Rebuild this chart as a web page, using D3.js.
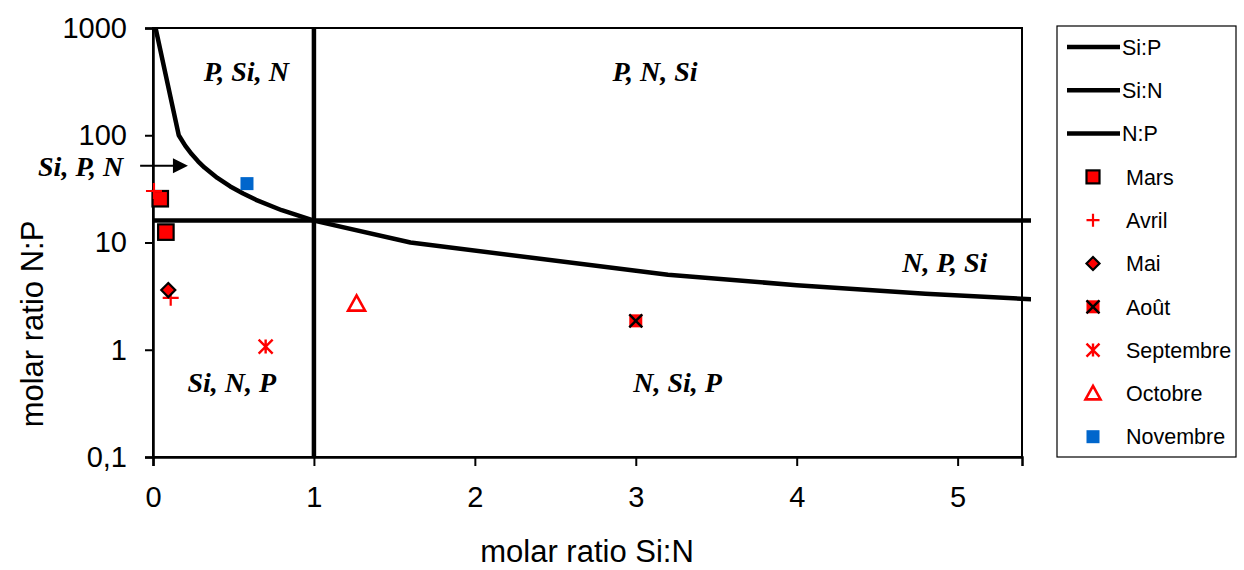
<!DOCTYPE html>
<html>
<head>
<meta charset="utf-8">
<script src="https://cdn.jsdelivr.net/npm/d3@7"></script>
<style>
  html, body { margin: 0; padding: 0; background: #fff; }
  svg { display: block; }
</style>
</head>
<body>
<svg id="chart" width="1244" height="570"></svg>
<script>
// ---- data ----
const xTicks = [0, 1, 2, 3, 4, 5];
const yTicks = [0.1, 1, 10, 100, 1000];

// Si:P = 16 line (vertices)
const siPLineSiN = [0.016, 0.16, 0.2, 0.24, 0.28, 0.32, 0.4, 0.48, 0.56, 0.64, 0.8, 1.0, 1.6, 3.2, 4.0, 4.8, 6.4];
const siPLineNP  = [1000, 100, 80, 66.7, 57.1, 50, 40, 33.3, 28.6, 25, 20, 16, 10, 5, 4, 3.33, 2.5];
// Si:N = 1 line
const siNLineSiN = [1, 1];
const siNLineNP  = [0.1, 1000];
// N:P = 16 line
const nPLineSiN = [0, 6.4];
const nPLineNP  = [16, 16];

const months = ["Mars", "Avril", "Mai", "Août", "Septembre", "Octobre", "Novembre"];
const marsSiN = [0.045, 0.08];   const marsNP = [25.6, 12.5];
const avrilSiN = [0.006, 0.11];  const avrilNP = [30.2, 3.05];
const maiSiN = [0.095];          const maiNP = [3.6];
const aoutSiN = [3.0];           const aoutNP = [1.86];
const septSiN = [0.70];          const septNP = [1.07];
const octSiN = [1.265];          const octNP = [2.68];
const novSiN = [0.584];          const novNP = [35.4];

const regionLabels = ["P, Si, N", "P, N, Si", "Si, P, N", "Si, N, P", "N, Si, P", "N, P, Si"];

// ---- layout ----
const svg = d3.select("#chart");
const pLeft = 153, pRight = 1022, pTop = 28, pBottom = 457;
const x = d3.scaleLinear().domain([0, 5.4]).range([pLeft, pRight]);
const y = d3.scaleLog().domain([0.1, 1000]).range([pBottom, pTop]);

svg.append("defs").append("clipPath").attr("id", "clip")
  .append("rect").attr("x", pLeft).attr("y", pTop - 2).attr("width", 1031 - pLeft).attr("height", pBottom - pTop + 4);

// frame
svg.append("rect").attr("x", pLeft).attr("y", pTop).attr("width", pRight - pLeft).attr("height", pBottom - pTop)
  .attr("fill", "none").attr("stroke", "#000").attr("stroke-width", 2);

// axes
const fmt = d => String(d).replace(".", ",");
const yAxis = svg.append("g").attr("transform", `translate(${pLeft},0)`)
  .call(d3.axisLeft(y).tickValues(yTicks).tickFormat(fmt).tickSize(8).tickPadding(18));
const xAxis = svg.append("g").attr("transform", `translate(0,${pBottom})`)
  .call(d3.axisBottom(x).tickValues(xTicks).tickFormat(fmt).tickSize(9).tickPadding(20));
[yAxis, xAxis].forEach(g => {
  g.select(".domain").attr("stroke", "#000").attr("stroke-width", 2.5);
  g.selectAll(".tick line").attr("stroke", "#000").attr("stroke-width", 2);
  g.selectAll(".tick text").attr("fill", "#000")
    .style("font-family", "Liberation Sans, Arial, sans-serif").style("font-size", "29px");
});

// axis titles
svg.append("text").attr("x", 587).attr("y", 562).attr("text-anchor", "middle")
  .style("font-family", "Liberation Sans, Arial, sans-serif").style("font-size", "31px")
  .text("molar ratio Si:N");
svg.append("text").attr("transform", "translate(43,324) rotate(-90)").attr("text-anchor", "middle")
  .style("font-family", "Liberation Sans, Arial, sans-serif").style("font-size", "31px")
  .text("molar ratio N:P");

// reference lines
const line = d3.line().x(d => x(d[0])).y(d => y(d[1]));
const lines = svg.append("g").attr("clip-path", "url(#clip)");
const zip = (a, b) => a.map((v, i) => [v, b[i]]);
[[siPLineSiN, siPLineNP], [siNLineSiN, siNLineNP], [nPLineSiN, nPLineNP]].forEach(([a, b]) => {
  lines.append("path").attr("d", line(zip(a, b)))
    .attr("fill", "none").attr("stroke", "#000").attr("stroke-width", 4.5).attr("stroke-linejoin", "round");
});

// region labels
const labelStyle = sel => sel.style("font-family", "Liberation Serif, Times New Roman, serif")
  .style("font-size", "28px").style("font-weight", "bold").style("font-style", "italic")
  .attr("text-anchor", "middle");
const regionPos = [[0.58, 320], [3.12, 320], [-0.45, 42], [0.49, 0.405], [3.26, 0.405], [4.92, 5.3]];
regionLabels.forEach((t, i) => {
  svg.append("text").attr("x", x(regionPos[i][0])).attr("y", y(regionPos[i][1])).text(t).call(labelStyle);
});
// arrow for "Si, P, N"
svg.append("line").attr("x1", x(-0.08)).attr("x2", x(0.13)).attr("y1", y(52)).attr("y2", y(52))
  .attr("stroke", "#000").attr("stroke-width", 2);
{
  const tx = x(0.217), ty = y(52);
  svg.append("path").attr("d", `M${tx},${ty} L${tx - 15},${ty - 7.5} L${tx - 15},${ty + 7.5} Z`).attr("fill", "#000");
}

// markers
function marker(g, type, s) {
  const h = s / 2;
  if (type === "square") {
    g.append("rect").attr("x", -h).attr("y", -h).attr("width", s).attr("height", s)
      .attr("fill", "#ff0000").attr("stroke", "#000").attr("stroke-width", 2.2);
  } else if (type === "plus") {
    g.append("path").attr("d", `M${-h},0H${h}M0,${-h}V${h}`).attr("stroke", "#ff0000").attr("stroke-width", 2.2).attr("fill", "none");
  } else if (type === "diamond") {
    g.append("path").attr("d", `M0,${-h}L${h},0L0,${h}L${-h},0Z`).attr("fill", "#ff0000").attr("stroke", "#000").attr("stroke-width", 2.2);
  } else if (type === "xsquare") {
    g.append("rect").attr("x", -h).attr("y", -h).attr("width", s).attr("height", s).attr("fill", "#ff0000");
    g.append("path").attr("d", `M${-h},${-h}L${h},${h}M${h},${-h}L${-h},${h}`).attr("stroke", "#000").attr("stroke-width", 2.4);
  } else if (type === "star") {
    g.append("path").attr("d", `M${-h},${-h}L${h},${h}M${h},${-h}L${-h},${h}M0,${-h}V${h}`)
      .attr("stroke", "#ff0000").attr("stroke-width", 2.4).attr("fill", "none");
  } else if (type === "triangle") {
    g.append("path").attr("d", `M0,${-h}L${h},${h * 0.8}L${-h},${h * 0.8}Z`)
      .attr("fill", "#fff").attr("stroke", "#ff0000").attr("stroke-width", 2.6);
  } else if (type === "bluesquare") {
    g.append("rect").attr("x", -h).attr("y", -h).attr("width", s).attr("height", s).attr("fill", "#0066cc");
  }
}
const series = [
  { name: months[0], xs: marsSiN, ys: marsNP, type: "square", size: 15.5 },
  { name: months[1], xs: avrilSiN, ys: avrilNP, type: "plus", size: 16 },
  { name: months[2], xs: maiSiN, ys: maiNP, type: "diamond", size: 14 },
  { name: months[3], xs: aoutSiN, ys: aoutNP, type: "xsquare", size: 13 },
  { name: months[4], xs: septSiN, ys: septNP, type: "star", size: 14 },
  { name: months[5], xs: octSiN, ys: octNP, type: "triangle", size: 17 },
  { name: months[6], xs: novSiN, ys: novNP, type: "bluesquare", size: 13 }
];
const pts = svg.append("g");
series.forEach(s => {
  s.xs.forEach((v, j) => {
    const g = pts.append("g").attr("transform", `translate(${x(v)},${y(s.ys[j])})`);
    marker(g, s.type, s.size);
  });
});

// legend
const lg = svg.append("g");
lg.append("rect").attr("x", 1057).attr("y", 26).attr("width", 179).attr("height", 431)
  .attr("fill", "#fff").attr("stroke", "#000").attr("stroke-width", 1.2);
const legendNames = ["Si:P", "Si:N", "N:P"].concat(months);
legendNames.forEach((n, i) => {
  const cy = 47 + i * 43.3;
  if (i < 3) {
    lg.append("line").attr("x1", 1067).attr("x2", 1120).attr("y1", cy).attr("y2", cy)
      .attr("stroke", "#000").attr("stroke-width", 4.5);
  } else {
    const s = series[i - 3];
    const g = lg.append("g").attr("transform", `translate(1093,${cy})`);
    marker(g, s.type, s.type === "triangle" ? 15 : 13);
  }
  lg.append("text").attr("x", i < 3 ? 1122 : 1126).attr("y", cy).attr("dy", "0.36em")
    .style("font-family", "Liberation Sans, Arial, sans-serif").style("font-size", "21.5px").text(n);
});
</script>
</body>
</html>
